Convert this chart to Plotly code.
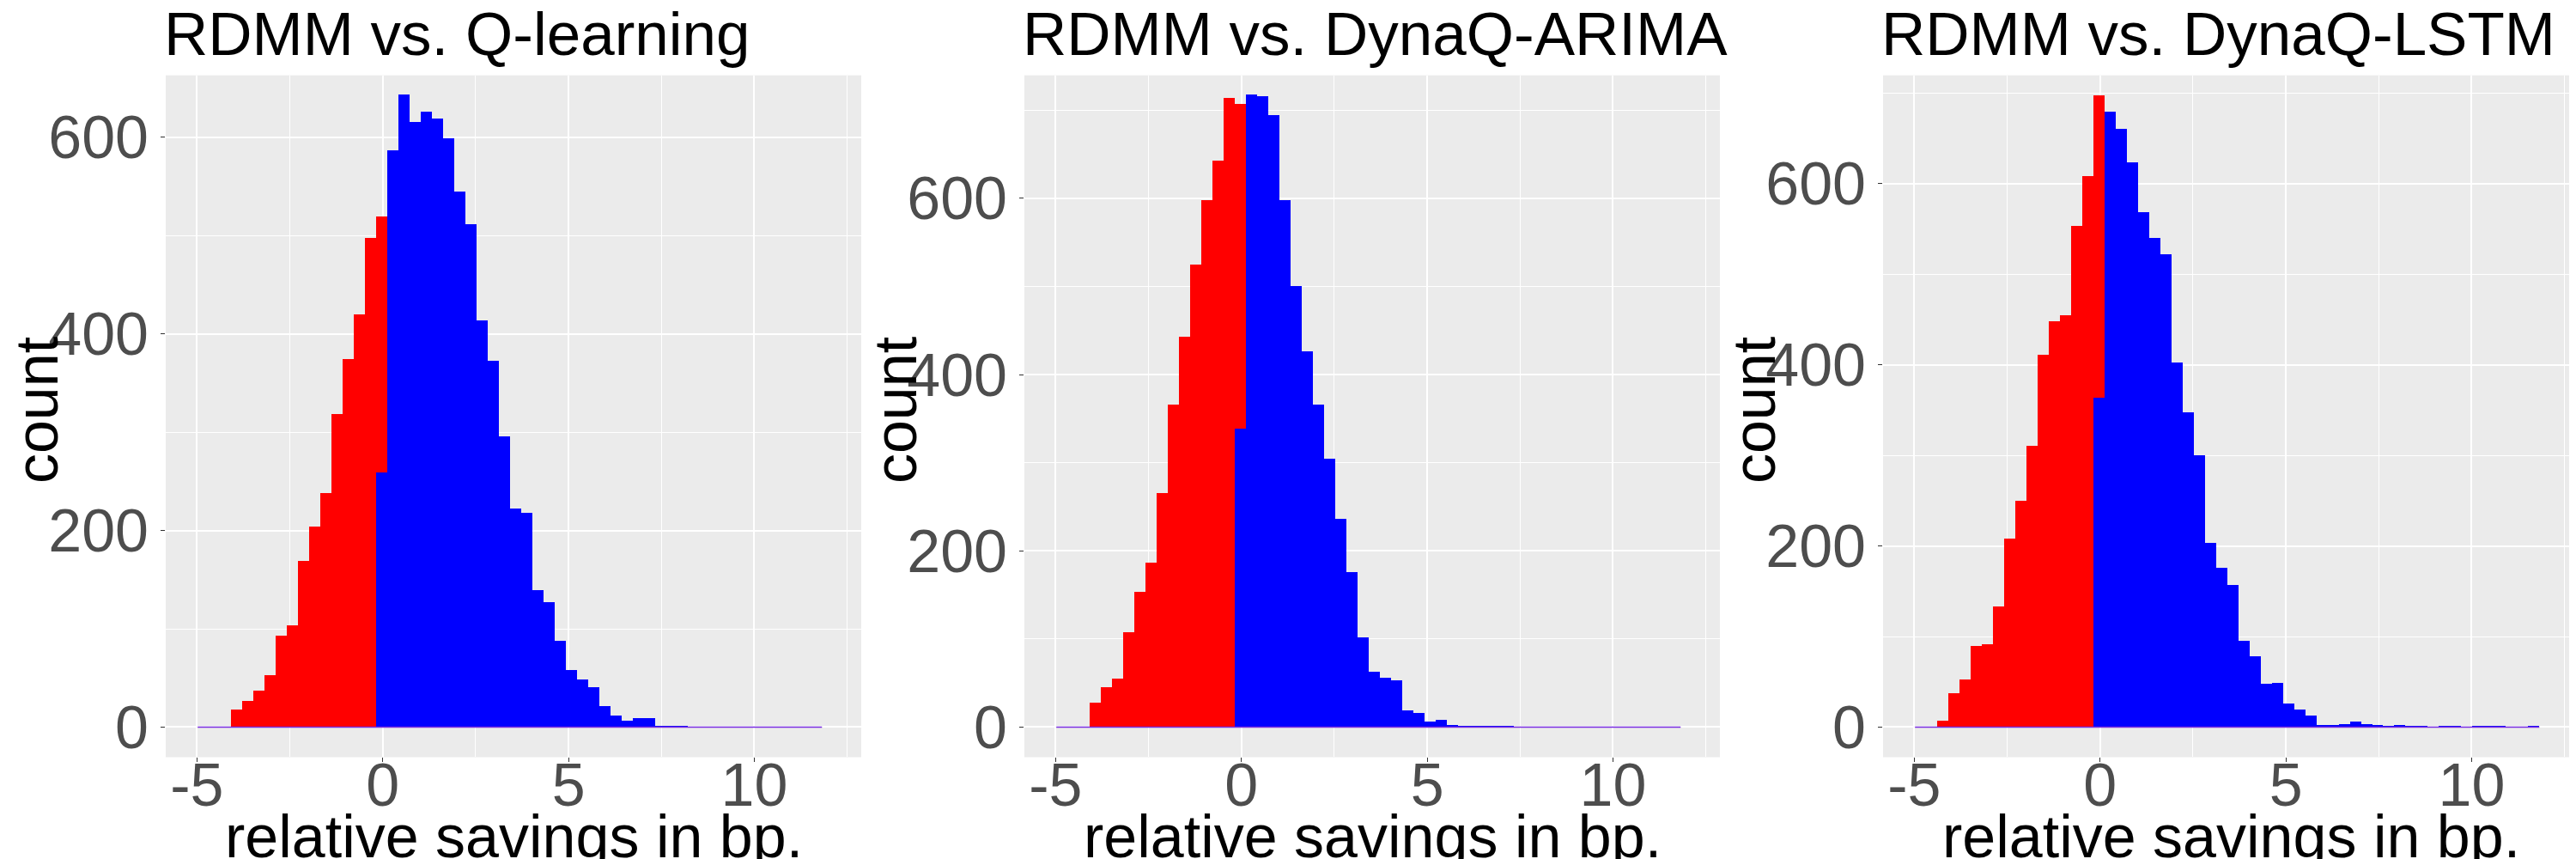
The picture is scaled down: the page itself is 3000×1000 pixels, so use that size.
import plotly.graph_objects as go

# bins shared by the three histograms
bin_start = -4.98
bin_width = 0.3
n_bins = 56
zero_bin = 16  # bin that holds 0: red part on top, blue part below

titles = ["RDMM vs. Q-learning", "RDMM vs. DynaQ-ARIMA", "RDMM vs. DynaQ-LSTM"]
x_ticks = [-5, 0, 5, 10]
y_ticks = [0, 200, 400, 600]

# counts of negative savings, bins 0..16
q_red = [0, 0, 0, 18, 27, 37, 53, 93, 104, 169, 204, 238, 319, 375, 420, 498, 261]
arima_red = [0, 0, 0, 28, 46, 55, 108, 154, 187, 266, 366, 443, 525, 598, 643, 714, 369]
lstm_red = [0, 0, 7, 38, 53, 90, 92, 134, 208, 250, 311, 411, 448, 455, 554, 609, 334]

# counts of positive savings, bins 16..55
q_blue = [259, 587, 644, 616, 626, 619, 599, 545, 512, 414,
          373, 296, 223, 218, 140, 127, 88, 58, 49, 41,
          22, 12, 7, 9, 9, 1, 1, 2, 0, 0,
          0, 0, 0, 0, 0, 0, 0, 0, 0, 0]
arima_blue = [339, 718, 716, 695, 598, 501, 427, 366, 305, 237,
              176, 102, 63, 56, 53, 19, 16, 7, 9, 3,
              2, 1, 1, 1, 1, 0, 0, 0, 0, 0,
              0, 0, 0, 0, 0, 0, 0, 0, 0, 0]
lstm_blue = [364, 680, 661, 624, 569, 540, 522, 403, 348, 300,
             204, 176, 157, 96, 79, 48, 49, 26, 20, 13,
             3, 3, 4, 6, 4, 3, 1, 3, 1, 1,
             0, 1, 2, 0, 1, 1, 1, 0, 0, 2]

panels = [(q_red, q_blue), (arima_red, arima_blue), (lstm_red, lstm_blue)]
y_ranges = [[-30.6, 663], [-34.2, 739.7], [-33.2, 719.6]]

font = "Liberation Sans"
grid_bg = "#EBEBEB"
tick_color = "#4D4D4D"

centers = [bin_start + bin_width * (i + 0.5) for i in range(n_bins)]
edges = [bin_start, bin_start + bin_width * n_bins]

fig = go.Figure()
annotations = []

for k, (red, blue) in enumerate(panels):
    xa = "x" if k == 0 else "x%d" % (k + 1)
    ya = "y" if k == 0 else "y%d" % (k + 1)
    red_full = red + [0] * (n_bins - len(red))
    blue_full = [0] * zero_bin + blue

    # blue first so it sits at the bottom of the stack
    fig.add_trace(go.Bar(x=centers, y=blue_full, width=bin_width, marker_color="blue",
                         marker_line=dict(width=0),
                         xaxis=xa, yaxis=ya, showlegend=False))
    fig.add_trace(go.Bar(x=centers, y=red_full, width=bin_width, marker_color="red",
                         marker_line=dict(width=0),
                         xaxis=xa, yaxis=ya, showlegend=False))
    # empty bins show as a thin line on the baseline
    fig.add_trace(go.Scatter(x=edges, y=[0, 0], mode="lines",
                             line=dict(color="#7a2ee0", width=1.5),
                             xaxis=xa, yaxis=ya, showlegend=False, hoverinfo="skip"))

    x0 = (185 + 1000 * k) / 3000
    x1 = (995 + 1000 * k) / 3000
    axis_common = dict(
        showgrid=True, gridcolor="white", gridwidth=1.6,
        zeroline=False, showline=False,
        ticks="outside", ticklen=5, tickwidth=1.2, tickcolor="#333333",
        tickfont=dict(family=font, size=70, color=tick_color),
    )
    fig.update_layout(**{
        ("xaxis" if k == 0 else "xaxis%d" % (k + 1)): dict(
            domain=[x0, x1], range=[-5.839, 12.877], anchor=ya,
            tickvals=x_ticks, ticktext=[str(v) for v in x_ticks],
            ticklabelstandoff=-33,
            minor=dict(dtick=2.5, tick0=0, showgrid=True, gridcolor="white", gridwidth=0.8),
            **axis_common),
        ("yaxis" if k == 0 else "yaxis%d" % (k + 1)): dict(
            domain=[0.123, 0.92], range=y_ranges[k], anchor=xa,
            tickvals=y_ticks, ticktext=[str(v) for v in y_ticks],
            minor=dict(dtick=100, tick0=0, showgrid=True, gridcolor="white", gridwidth=0.8),
            **axis_common),
    })

    annotations.append(dict(text=titles[k], x=x0, y=1.0, xref="paper", yref="paper",
                            xanchor="left", yanchor="top", xshift=-4, yshift=10,
                            showarrow=False,
                            font=dict(family=font, size=71, color="black")))
    annotations.append(dict(text="relative savings in bp.", x=(x0 + x1) / 2, y=0.071,
                            xref="paper", yref="paper", xanchor="center", yanchor="top",
                            showarrow=False, font=dict(family=font, size=70, color="black")))
    annotations.append(dict(text="count", x=(35 + 1000 * k) / 3000, y=0.528, textangle=-90,
                            xref="paper", yref="paper", xanchor="center", yanchor="middle",
                            showarrow=False, font=dict(family=font, size=70, color="black")))

fig.update_layout(
    width=3000, height=1000,
    margin=dict(l=0, r=0, t=0, b=0),
    paper_bgcolor="white", plot_bgcolor=grid_bg,
    barmode="stack", bargap=0,
    annotations=annotations,
)

fig.write_html("out.html")
